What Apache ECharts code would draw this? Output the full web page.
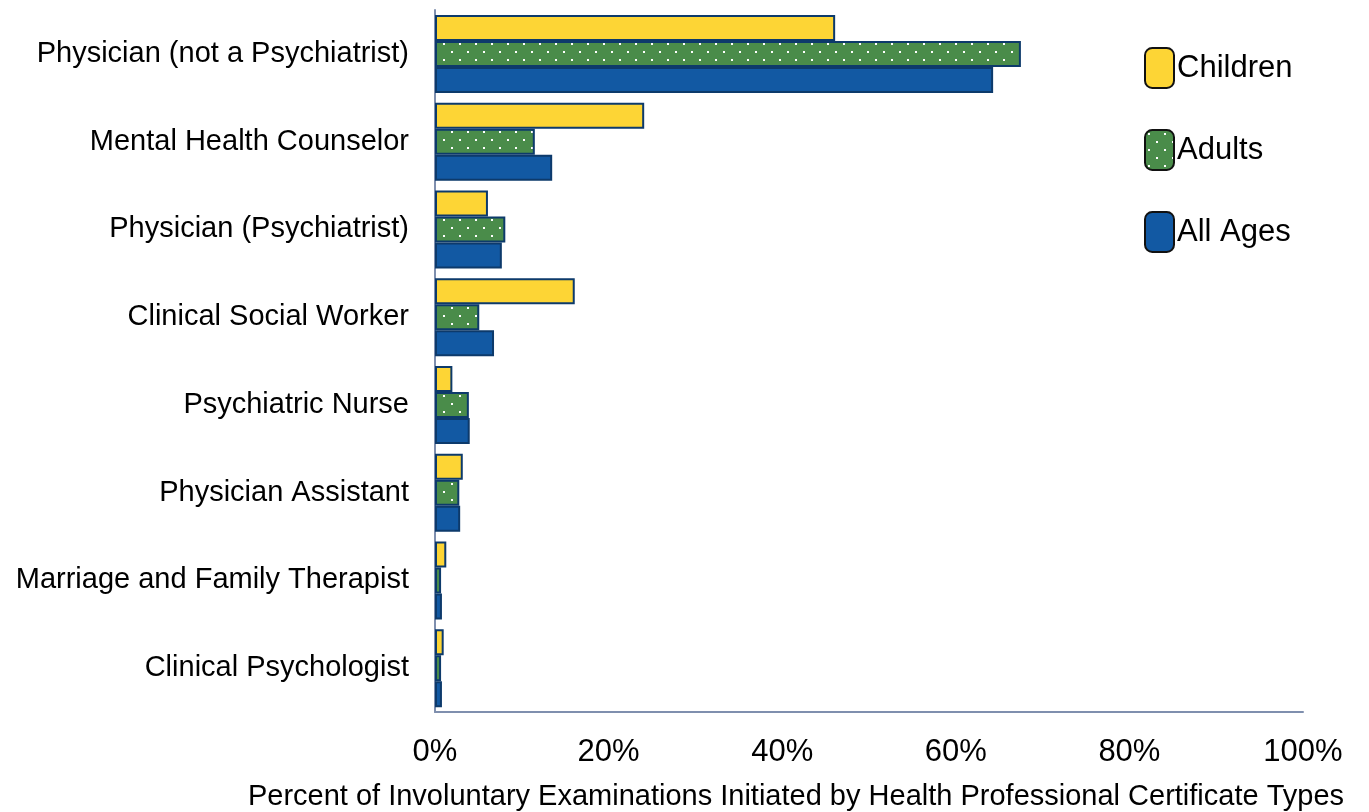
<!DOCTYPE html>
<html>
<head>
<meta charset="utf-8">
<script src="https://cdn.jsdelivr.net/npm/echarts@6/dist/echarts.min.js"></script>
<style>
  html, body { margin: 0; padding: 0; background: #fff; }
  #chart { width: 1369px; height: 812px; }
</style>
</head>
<body>
<div id="chart"></div>
<script>
// 职业类别
var categories = [
  'Physician (not a Psychiatrist)',
  'Mental Health Counselor',
  'Physician (Psychiatrist)',
  'Clinical Social Worker',
  'Psychiatric Nurse',
  'Physician Assistant',
  'Marriage and Family Therapist',
  'Clinical Psychologist'
];
var children = [46.1, 24.1, 6.1, 16.1, 2.0, 3.2, 1.3, 1.0];
var adults   = [67.5, 11.5, 8.1, 5.1, 3.9, 2.8, 0.7, 0.7];
var allAges  = [64.3, 13.5, 7.7, 6.8, 4.0, 2.9, 0.8, 0.8];
var xTicks = [0, 20, 40, 60, 80, 100];

// 绿色带白点的填充
function dotPattern() {
  var c = document.createElement('canvas');
  c.width = 16; c.height = 16;
  var ctx = c.getContext('2d');
  ctx.fillStyle = '#4a8c4a';
  ctx.fillRect(0, 0, 16, 16);
  ctx.fillStyle = '#ffffff';
  ctx.fillRect(3, 3, 2, 2);
  ctx.fillRect(11, 11, 2, 2);
  return c;
}

var font = "'Liberation Sans', Arial, sans-serif";
var border = '#0d3a6b';

var chart = echarts.init(document.getElementById('chart'));
chart.setOption({
  animation: false,
  grid: { left: 435, right: 66, top: 10, bottom: 100, containLabel: false },
  legend: {
    orient: 'vertical',
    left: 1144,
    top: 47,
    padding: 0,
    icon: 'roundRect',
    itemWidth: 29,
    itemHeight: 40,
    itemGap: 40,
    textStyle: { fontFamily: font, fontSize: 31, color: '#000', padding: [0, 0, 0, -2] },
    itemStyle: { borderColor: '#111', borderWidth: 2 },
    data: ['Children', 'Adults', 'All Ages']
  },
  xAxis: {
    type: 'value',
    min: xTicks[0],
    max: xTicks[xTicks.length - 1],
    interval: 20,
    splitLine: { show: false },
    axisTick: { show: false },
    axisLine: { show: true, lineStyle: { color: '#7f8fae', width: 2 } },
    axisLabel: {
      formatter: '{value}%',
      fontFamily: font, fontSize: 31, color: '#000', margin: 25
    }
  },
  yAxis: {
    type: 'category',
    inverse: true,
    data: categories,
    axisTick: { show: false },
    axisLine: { show: true, lineStyle: { color: '#7f8fae', width: 2 } },
    axisLabel: { fontFamily: font, fontSize: 29, color: '#000', margin: 26 }
  },
  graphic: [{
    type: 'text',
    x: 796,
    y: 797,
    style: {
      text: 'Percent of Involuntary Examinations Initiated by Health Professional Certificate Types',
      font: '29px ' + font,
      fill: '#000',
      align: 'center',
      verticalAlign: 'middle'
    }
  }],
  series: [
    {
      name: 'Children', type: 'bar', data: children,
      barWidth: 26, barGap: '0%',
      itemStyle: { color: '#fdd535', borderColor: border, borderWidth: 2 }
    },
    {
      name: 'Adults', type: 'bar', data: adults,
      barWidth: 26, barGap: '0%',
      itemStyle: { color: { image: dotPattern(), repeat: 'repeat' }, borderColor: border, borderWidth: 2 }
    },
    {
      name: 'All Ages', type: 'bar', data: allAges,
      barWidth: 26, barGap: '0%',
      itemStyle: { color: '#1259a3', borderColor: border, borderWidth: 2 }
    }
  ]
});
</script>
</body>
</html>
